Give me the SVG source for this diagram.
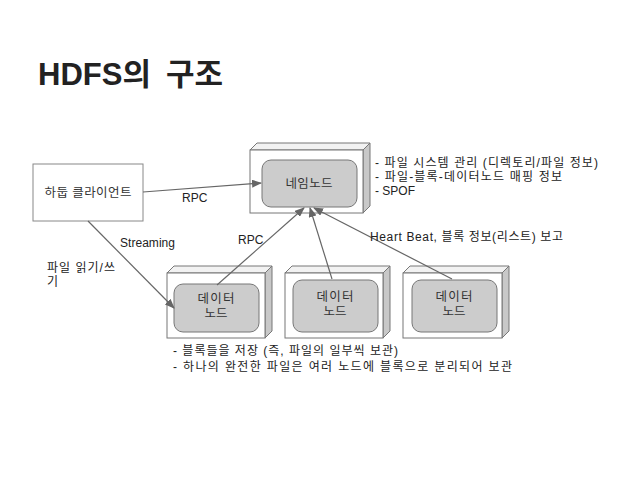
<svg xmlns="http://www.w3.org/2000/svg" width="638" height="479" viewBox="0 0 638 479">
<defs>
<marker id="ah" markerWidth="10" markerHeight="8" refX="9" refY="4" orient="auto" markerUnits="userSpaceOnUse">
<path d="M0,0 L10,4 L0,8 z" fill="#666"/>
</marker>
<style>
text{font-family:"Liberation Sans","Noto Sans CJK KR",sans-serif;fill:#222}
.t{font-size:12px}
.c{text-anchor:middle;font-size:12.5px;fill:#333}
.front{fill:#fff;stroke:#777;stroke-width:1}
.top{fill:#f2f2f2;stroke:#777;stroke-width:1}
.side{fill:#c8c8c8;stroke:#777;stroke-width:1}
.inner{fill:#cccccc;stroke:#777;stroke-width:1}
.box{fill:#fff;stroke:#888;stroke-width:1}
.ln{stroke:#666;stroke-width:1.2;fill:none;marker-end:url(#ah)}
</style>
</defs>
<rect width="638" height="479" fill="#fff"/>
<text x="38" y="85" style="font-size:31px;font-weight:bold" fill="#111">HDFS의 <tspan x="166">구조</tspan></text>

<g id="client">
<rect class="box" x="33" y="164" width="110" height="57"/>
<text class="c" x="88" y="197" textLength="87" lengthAdjust="spacing">하둡 클라이언트</text>
</g>

<g id="namenode">
<polygon class="top" points="250,150 257,143 370,143 363,150"/>
<polygon class="side" points="363,150 370,143 370,206 363,213"/>
<rect class="front" x="250" y="150" width="113" height="63"/>
<rect class="inner" x="262" y="160" width="95" height="47" rx="9"/>
<text class="c" x="309" y="188" textLength="47" lengthAdjust="spacing">네임노드</text>
</g>

<g id="datanode1">
<polygon class="top" points="167,273 174,266 272,266 265,273"/>
<polygon class="side" points="265,273 272,266 272,331 265,338"/>
<rect class="front" x="167" y="273" width="98" height="65"/>
<rect class="inner" x="174" y="284" width="85" height="48" rx="9"/>
<text class="c" x="216" y="303" textLength="37" lengthAdjust="spacing">데이터</text>
<text class="c" x="216" y="318">노드</text>
</g>

<g id="datanode2">
<polygon class="top" points="285,273 292,266 390,266 383,273"/>
<polygon class="side" points="383,273 390,266 390,331 383,338"/>
<rect class="front" x="285" y="273" width="98" height="65"/>
<rect class="inner" x="293" y="280" width="85" height="52" rx="9"/>
<text class="c" x="335" y="301" textLength="37" lengthAdjust="spacing">데이터</text>
<text class="c" x="335" y="316">노드</text>
</g>

<g id="datanode3">
<polygon class="top" points="403,273 410,266 509,266 502,273"/>
<polygon class="side" points="502,273 509,266 509,331 502,338"/>
<rect class="front" x="403" y="273" width="99" height="65"/>
<rect class="inner" x="412" y="280" width="85" height="52" rx="9"/>
<text class="c" x="454" y="301" textLength="37" lengthAdjust="spacing">데이터</text>
<text class="c" x="454" y="316">노드</text>
</g>

<g id="connectors">
<line class="ln" x1="143" y1="192" x2="261" y2="183"/>
<line class="ln" x1="88" y1="221" x2="174" y2="308"/>
<line class="ln" x1="217" y1="285" x2="304" y2="208"/>
<line class="ln" x1="332" y1="279" x2="310" y2="208"/>
<line class="ln" x1="452" y1="279" x2="314" y2="208"/>
</g>

<g id="labels">
<text class="t" x="182" y="202">RPC</text>
<text class="t" x="120" y="247" textLength="55" lengthAdjust="spacing">Streaming</text>
<text class="t" x="238" y="244">RPC</text>
<text class="t" x="370" y="241" textLength="193" lengthAdjust="spacing">Heart Beat, 블록 정보(리스트) 보고</text>
<text class="t" x="47" y="272" textLength="68" lengthAdjust="spacing">파일 읽기/쓰</text>
<text class="t" x="47" y="286">기</text>
<text class="t" x="375" y="167" textLength="223" lengthAdjust="spacing">- 파일 시스템 관리 (디렉토리/파일 정보)</text>
<text class="t" x="375" y="181" textLength="187" lengthAdjust="spacing">- 파일-블록-데이터노드 매핑 정보</text>
<text class="t" x="375" y="195">- SPOF</text>
<text class="t" x="173" y="355" textLength="225" lengthAdjust="spacing">- 블록들을 저장 (즉, 파일의 일부씩 보관)</text>
<text class="t" x="173" y="371" textLength="339" lengthAdjust="spacing">- 하나의 완전한 파일은 여러 노드에 블록으로 분리되어 보관</text>
</g>
</svg>
